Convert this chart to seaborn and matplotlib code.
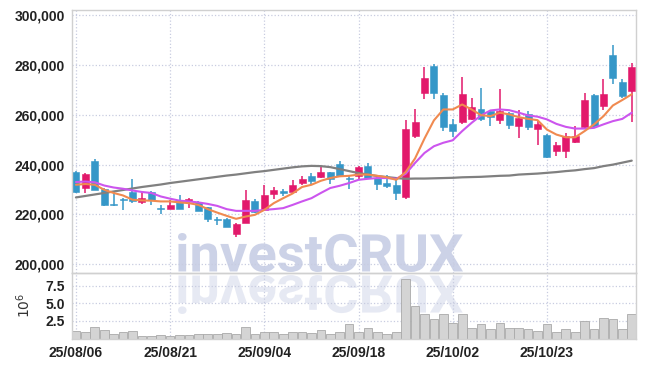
import numpy as np
import pandas as pd
import matplotlib
matplotlib.use("Agg")
import matplotlib.pyplot as plt
import matplotlib.ticker as mticker
from matplotlib.textpath import TextPath
from matplotlib.patches import PathPatch
from matplotlib.font_manager import FontProperties
from matplotlib.transforms import Affine2D, IdentityTransform
import seaborn as sns

# daily candles
dates = ["25/08/06", "25/08/07", "25/08/08", "25/08/11", "25/08/12", "25/08/13", "25/08/14",
         "25/08/18", "25/08/19", "25/08/20", "25/08/21", "25/08/22", "25/08/25", "25/08/26",
         "25/08/27", "25/08/28", "25/08/29", "25/09/01", "25/09/02", "25/09/03", "25/09/04",
         "25/09/05", "25/09/08", "25/09/09", "25/09/10", "25/09/11", "25/09/12", "25/09/15",
         "25/09/16", "25/09/17", "25/09/18", "25/09/19", "25/09/22", "25/09/23", "25/09/24",
         "25/09/25", "25/09/26", "25/09/29", "25/09/30", "25/10/01", "25/10/02", "25/10/10",
         "25/10/13", "25/10/14", "25/10/15", "25/10/16", "25/10/17", "25/10/20", "25/10/21",
         "25/10/22", "25/10/23", "25/10/24", "25/10/27", "25/10/28", "25/10/29", "25/10/30",
         "25/10/31", "25/11/03", "25/11/04", "25/11/05"]

opens = [237000, 230400, 241500, 230200, 224200, 226300, 229000, 224900, 228800, 222200,
         222300, 225200, 225200, 224800, 222900, 217900, 218200, 212000, 216700, 225500,
         221800, 228200, 228900, 228800, 232600, 235300, 234900, 236900, 240400, 234300,
         235300, 239600, 234600, 232800, 231900, 227000, 251700, 269000, 279500, 267900,
         256200, 257200, 258400, 262500, 261500, 257900, 260900, 255500, 260500, 254400,
         252100, 245400, 245400, 249000, 255200, 267900, 263500, 284000, 273300, 269700]
highs = [237300, 236600, 242300, 230400, 228800, 226500, 234200, 229000, 229200, 223800,
         225900, 227600, 226400, 225500, 223100, 219100, 218600, 216400, 229900, 226000,
         231900, 231000, 230200, 233900, 235300, 236700, 239300, 237100, 241300, 235300,
         239600, 240700, 234900, 236000, 234300, 257900, 262500, 279100, 280400, 268800,
         258400, 275400, 267000, 271000, 262000, 270600, 261300, 262000, 261500, 257500,
         252300, 249000, 252800, 255500, 269000, 268300, 274300, 288100, 274600, 280700]
lows = [228400, 228600, 229600, 223200, 223400, 221800, 224500, 224100, 223800, 220200,
        222100, 222000, 222500, 221200, 217100, 215800, 214800, 211000, 216500, 220600,
        221500, 226300, 227200, 228400, 232000, 231900, 234500, 232300, 235000, 230200,
        233900, 234200, 229900, 230600, 225600, 226100, 250800, 266500, 266300, 253500,
        251200, 256200, 258000, 257500, 255500, 256200, 254400, 250800, 254000, 247700,
        242500, 243400, 242700, 248800, 254200, 255000, 261800, 272300, 267000, 257100]
closes = [228800, 236400, 229900, 223600, 223600, 225600, 225200, 226500, 225900, 222000,
          223800, 222300, 226300, 221500, 218200, 217700, 215100, 216200, 225900, 220900,
          227900, 229900, 228700, 231900, 234300, 233500, 236900, 234300, 235300, 234100,
          239100, 234600, 232300, 231500, 228600, 254500, 257200, 275000, 269000, 255100,
          253500, 268300, 263300, 258200, 259300, 261500, 255900, 258900, 255100, 256200,
          242900, 247700, 251700, 251700, 265900, 255500, 268300, 275000, 267600, 279100]

volumes = [1130000, 990000, 1640000, 1270000, 720000, 990000, 1090000, 400000, 400000, 530000,
           400000, 530000, 530000, 700000, 720000, 720000, 740000, 720000, 1600000, 720000,
           990000, 990000, 720000, 990000, 990000, 810000, 1270000, 720000, 990000, 2050000,
           990000, 1500000, 990000, 720000, 990000, 8400000, 4600000, 3480000, 2740000, 3480000,
           2280000, 3480000, 1500000, 2050000, 1360000, 2190000, 1500000, 1500000, 1360000, 1090000,
           2050000, 990000, 1360000, 990000, 2470000, 1360000, 2880000, 2740000, 1360000, 3480000]

# moving averages as drawn (short / mid / long)
ma_short = [231900, 232200, 231900, 229900, 228600, 227600, 225900, 225600, 225500, 225200,
            225200, 224800, 224500, 223800, 222100, 220700, 219400, 218200, 219100, 219800,
            221800, 224500, 226500, 228400, 231000, 231900, 233500, 234600, 235300, 235500,
            236000, 236000, 235500, 234900, 233900, 237000, 242500, 250500, 257800, 262200,
            262200, 264200, 262200, 259900, 259500, 260900, 260200, 259100, 258400, 257900,
            254100, 252100, 251000, 251000, 253500, 256200, 259500, 263800, 266000, 268300]
ma_mid = [233000, 233200, 232900, 231600, 230800, 230300, 229600, 229000, 228600, 227200,
          226300, 225500, 225200, 224800, 224200, 223400, 222100, 221400, 221400, 221400,
          221800, 222100, 222500, 223800, 225200, 226500, 228600, 230600, 231500, 232600,
          233900, 234300, 234600, 234600, 234300, 236300, 240700, 244700, 247400, 248800,
          249800, 253500, 256800, 259800, 261800, 262200, 261900, 260900, 259800, 259300,
          258200, 256400, 255200, 254500, 254500, 254800, 256200, 257500, 258400, 260900]
ma_long = [226800, 227400, 228000, 228600, 229200, 229800, 230400, 231000, 231500, 232000,
           232600, 233100, 233600, 234100, 234600, 235100, 235600, 236000, 236500, 237000,
           237400, 237900, 238400, 238900, 239300, 239500, 239400, 239000, 238200, 237400,
           236600, 236000, 235400, 235000, 234600, 234300, 234400, 234400, 234500, 234600,
           234700, 234900, 235000, 235100, 235300, 235500, 235600, 236000, 236200, 236400,
           236700, 237000, 237400, 237700, 238200, 238600, 239400, 240000, 240800, 241600]

df = pd.DataFrame({"date": dates, "open": opens, "high": highs, "low": lows,
                   "close": closes, "volume": volumes,
                   "ma_short": ma_short, "ma_mid": ma_mid, "ma_long": ma_long})
df["idx"] = np.arange(len(df))

sns.set_style("white")
plt.rcParams["font.family"] = ["Liberation Sans", "DejaVu Sans"]

UP = "#e2196b"
DOWN = "#3597c8"
GRID = "#c8cce0"
SPINE = "#d0d0d0"

fig = plt.figure(figsize=(6.45, 3.67), dpi=100)
ax = fig.add_axes([0.1116, 0.2561, 0.8744, 0.7166])
axv = fig.add_axes([0.1116, 0.0774, 0.8744, 0.1787])
for a in (ax, axv):
    a.set_facecolor("none")

# watermark + reflection, behind the axes
fp = FontProperties(family="Roboto", weight="bold")
tp = TextPath((0, 0), "investCRUX", size=1, prop=fp)
ext = tp.get_extents()
sx, sy = 285 / ext.width, 39 / ext.height
top_tr = Affine2D().translate(-ext.x0, -ext.y0).scale(sx, sy).translate(178, 95)
ref_tr = Affine2D().translate(-ext.x0, -ext.y0).scale(sx, -sy).translate(178, 92)
fig.add_artist(PathPatch(top_tr.transform_path(tp), facecolor="#9aa6d0", edgecolor="none",
                         alpha=0.5, transform=IdentityTransform(), zorder=-1))
fig.add_artist(PathPatch(ref_tr.transform_path(tp), facecolor="#9aa6d0", edgecolor="none",
                         alpha=0.24, transform=IdentityTransform(), zorder=-1))

# candles
colors = np.where(df["close"] >= df["open"], UP, DOWN)
ax.vlines(df["idx"], df["low"], df["high"], colors=colors, lw=1.1, zorder=2)
body = (df["close"] - df["open"]).abs().clip(lower=500)
ax.bar(df["idx"], body, bottom=df[["open", "close"]].min(axis=1), width=0.74,
       color=colors, edgecolor=colors, linewidth=0.4, zorder=2)

sns.lineplot(x=df["idx"], y=df["ma_long"], ax=ax, color="#808080", lw=1.6, zorder=3)
sns.lineplot(x=df["idx"], y=df["ma_mid"], ax=ax, color="#cc55ee", lw=1.5, zorder=3)
sns.lineplot(x=df["idx"], y=df["ma_short"], ax=ax, color="#f08a50", lw=1.5, zorder=3)

# volume
sns.barplot(x=df["idx"], y=df["volume"] / 1e6, ax=axv, color="#d4d4d4", saturation=1,
            edgecolor="#a9a9a9", linewidth=0.6, width=0.92, errorbar=None)

ticks = list(df["idx"][::10])
for a in (ax, axv):
    a.set_xlim(-0.42, 59.45)
    a.set_xticks(ticks)
    a.set_xlabel("")
    a.grid(True, ls=":", color=GRID, lw=0.9)
    a.set_axisbelow(True)
    a.tick_params(length=0, labelsize=10, labelcolor="#222222")
    for s in a.spines.values():
        s.set_color(SPINE)
        s.set_linewidth(1)

ax.set_xticklabels([])
ax.set_ylim(196400, 302200)
ax.set_yticks(np.arange(200000, 300001, 20000))
ax.yaxis.set_major_formatter(mticker.StrMethodFormatter("{x:,.0f}"))
ax.set_ylabel("")
ax.tick_params(axis="y", pad=5)

axv.set_xticklabels([dates[i] for i in ticks])
axv.tick_params(axis="x", pad=5)
axv.tick_params(axis="y", pad=5)
axv.set_ylim(0, 9.3)
axv.set_yticks([2.5, 5.0, 7.5])
axv.yaxis.set_major_formatter(mticker.StrMethodFormatter("{x:.1f}"))
axv.set_ylabel("$10^6$", fontsize=10, color="#333333")
axv.yaxis.set_label_coords(-0.069, 0.5)

for a in (ax, axv):
    for lab in a.get_xticklabels() + a.get_yticklabels():
        lab.set_fontweight("bold")

fig.savefig("out.png", dpi=100)
